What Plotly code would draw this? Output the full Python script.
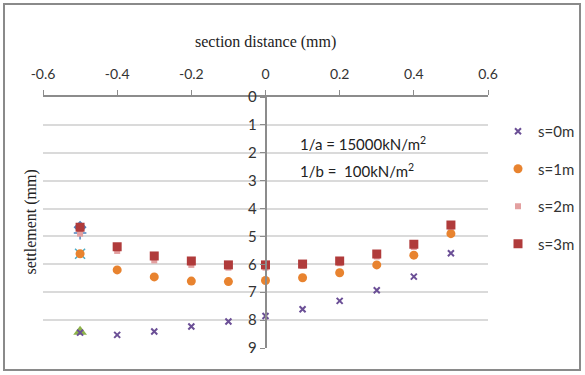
import plotly.graph_objects as go

# Data
section_x = [-0.5, -0.4, -0.3, -0.2, -0.1, 0.0, 0.1, 0.2, 0.3, 0.4, 0.5]
s0 = [8.45, 8.53, 8.41, 8.23, 8.05, 7.85, 7.61, 7.31, 6.93, 6.44, 5.60]
s1 = [5.62, 6.20, 6.45, 6.60, 6.62, 6.58, 6.48, 6.30, 6.02, 5.67, 4.90]
s2 = [4.90, 5.52, 5.86, 6.02, 6.12, 6.12, 6.06, 5.96, 5.72, 5.38, 4.65]
s3 = [4.67, 5.37, 5.70, 5.88, 6.02, 6.02, 5.99, 5.88, 5.63, 5.28, 4.59]
series_names = ["s=0m", "s=1m", "s=2m", "s=3m"]

# extra (unlabelled) series that only appear at x = -0.5
extra_x = [-0.5]
extra_diamond = [4.67]
extra_triangle = [8.42]
extra_star = [5.62]
extra_plus = [4.88]

x_ticks = [-0.6, -0.4, -0.2, 0.0, 0.2, 0.4, 0.6]
x_tick_text = ["-0.6", "-0.4", "-0.2", "0", "0.2", "0.4", "0.6"]
y_ticks = list(range(0, 10))

W, H = 585, 375
L, R, T, B = 43, 97, 97, 27
PW, PH = W - L - R, H - T - B

fig = go.Figure()

# hidden extras
fig.add_trace(go.Scatter(x=extra_x, y=extra_diamond, mode="markers", showlegend=False,
                         marker=dict(symbol="diamond", size=10, color="#4F81BD")))
fig.add_trace(go.Scatter(x=extra_x, y=extra_triangle, mode="markers", showlegend=False,
                         marker=dict(symbol="triangle-up", size=12, color="#8DB24A")))
fig.add_trace(go.Scatter(x=extra_x, y=extra_star, mode="markers", showlegend=False,
                         marker=dict(symbol="x-thin", size=10, color="#4BACC6",
                                     line=dict(width=1.5, color="#4BACC6"))))
fig.add_trace(go.Scatter(x=extra_x, y=extra_plus, mode="markers", showlegend=False,
                         marker=dict(symbol="cross-thin", size=9, color="#4F81BD",
                                     line=dict(width=1.5, color="#4F81BD"))))

styles = [
    dict(symbol="x-thin", size=6, color="#6B4F96", line=dict(width=2, color="#6B4F96")),
    dict(symbol="circle", size=9, color="#E8832F"),
    dict(symbol="square", size=6, color="#E3A0A0"),
    dict(symbol="square", size=9, color="#B03B3B"),
]
for i, (name, ys) in enumerate(zip(series_names, [s0, s1, s2, s3])):
    fig.add_trace(go.Scatter(x=section_x, y=ys, mode="markers", name=name,
                             legendgroup=name, marker=styles[i]))

fig.update_layout(
    width=W, height=H,
    margin=dict(l=L, r=R, t=T, b=B, autoexpand=False),
    paper_bgcolor="white", plot_bgcolor="white",
    showlegend=True,
    legend=dict(xref="container", yref="container",
                x=498 / W, y=1 - 115 / H, xanchor="left", yanchor="top",
                font=dict(family="Lato, Noto Sans, sans-serif", size=15, color="#333333"),
                tracegroupgap=15, bgcolor="rgba(0,0,0,0)", itemwidth=30),
    xaxis=dict(range=[-0.6, 0.6], side="top", showline=True, linecolor="#8C8C8C",
               linewidth=1.5, ticks="outside", ticklen=5, tickcolor="#8C8C8C",
               tickvals=x_ticks, ticktext=x_tick_text, showgrid=False, zeroline=False,
               ticklabelstandoff=6,
               tickfont=dict(family="Lato, Noto Sans, sans-serif", size=14, color="#333333")),
    yaxis=dict(range=[9, 0], anchor="free", position=0.5, showline=True,
               linecolor="#8C8C8C", linewidth=1.5, ticks="outside", ticklen=5,
               tickcolor="#8C8C8C", tickvals=y_ticks, showgrid=True,
               gridcolor="#DADADA", gridwidth=1.5, zeroline=False,
               tickfont=dict(family="Lato, Noto Sans, sans-serif", size=15, color="#333333")),
)

fig.add_annotation(text="section distance (mm)", xref="paper", yref="paper",
                   x=0.5, y=(H - B - 42) / PH, xanchor="center", yanchor="middle",
                   showarrow=False,
                   font=dict(family="Liberation Serif, Times New Roman, serif", size=16, color="#222222"))
fig.add_annotation(text="settlement (mm)", xref="paper", yref="paper",
                   x=(30 - L) / PW, y=0.5, xanchor="center", yanchor="middle",
                   textangle=-90, showarrow=False,
                   font=dict(family="Liberation Serif, Times New Roman, serif", size=16, color="#222222"))
fig.add_annotation(text="1/a = 15000kN/m<sup>2</sup>", xref="x", yref="y",
                   x=0.088, y=1.65, xanchor="left", yanchor="middle", showarrow=False,
                   font=dict(family="Lato, Noto Sans, sans-serif", size=15, color="#222222"))
fig.add_annotation(text="1/b =  100kN/m<sup>2</sup>", xref="x", yref="y",
                   x=0.088, y=2.62, xanchor="left", yanchor="middle", showarrow=False,
                   font=dict(family="Lato, Noto Sans, sans-serif", size=15, color="#222222"))

# outer chart border
fig.add_shape(type="rect", xref="paper", yref="paper",
              x0=(4 - L) / PW, x1=(580 - L) / PW,
              y0=(H - B - 370) / PH, y1=(H - B - 4) / PH,
              line=dict(color="#8A8A8A", width=2), fillcolor="rgba(0,0,0,0)", layer="below")

fig.write_html("out.html", config={"displayModeBar": False},
               post_script="document.body.style.margin='0px';document.body.style.overflow='hidden';")
